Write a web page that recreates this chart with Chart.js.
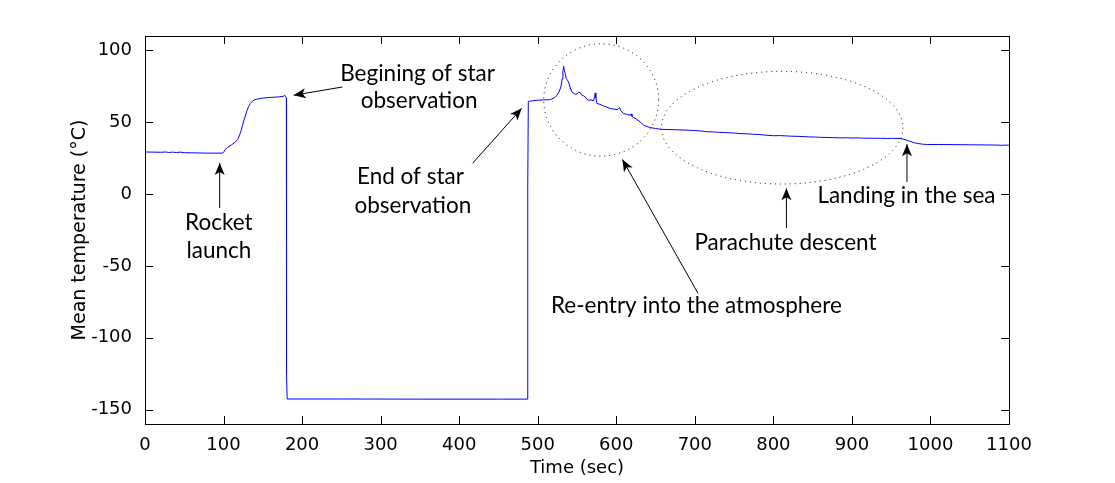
<!DOCTYPE html>
<html lang="en">

<head>
  <meta charset="utf-8">
  <title>Mean temperature</title>
  <script src="https://cdn.jsdelivr.net/npm/chart.js"></script>
  <style>
    body { margin: 0; background: #fff; }
  </style>
</head>

<body>
  <canvas id="chart" width="1115" height="483"></canvas>

  <script type="text/javascript">
    // flight record
    const timeSec = [
      0, 10, 20, 27, 30, 35, 40, 45, 50, 60, 70, 80, 90, 99,
      100.5, 102, 105, 110, 115, 118, 120, 122, 124, 126, 128, 130, 132, 134, 136, 139, 142,
      150, 160, 170, 176, 178, 179, 180, 180.2, 181,
      250, 350, 450, 487, 487.3, 488,
      489.6, 495, 499, 508, 516, 521, 524.4, 527, 529.5, 531, 532, 533, 534, 535, 536.3, 537.5, 539.3,
      541, 543.5, 545, 547.8, 550, 552, 554, 556, 558, 560.5, 562, 564.7, 568, 571, 572.5, 573.2, 574,
      575.4, 579, 583.8, 588, 592.4, 597, 601, 603, 604.2, 605.5, 609.3, 613, 617.8, 619, 620, 622,
      626, 630.6, 634.8, 638, 643.3, 650, 657, 664.6, 680, 693.4,
      700, 708, 715, 722, 730, 738, 745, 752, 760, 768, 775, 782, 790, 800, 808, 815, 822, 830, 838,
      845, 852, 860, 868, 875, 885, 893, 900, 908, 915, 922, 930, 938, 945, 952, 960,
      965, 970, 975, 980, 985, 990, 996, 1010, 1030, 1050, 1070, 1085, 1090, 1095, 1100
    ];
    const meanTemp = [
      29.3, 29.2, 29.1, 29.3, 28.9, 29.2, 28.9, 29.2, 28.8, 28.7, 28.6, 28.5, 28.5, 28.5,
      29.5, 31, 32.4, 34.2, 36.2, 38, 40.5, 43.5, 47.5, 51.5, 55, 58.3, 61, 63, 64.3, 65.5, 66,
      66.8, 67.3, 67.6, 68, 68.8, 67.5, 67, -126, -142.6,
      -142.6, -142.7, -142.7, -142.7, 5, 64.5,
      64.6, 65, 65.3, 65.5, 65.7, 67, 68.7, 71, 74.5, 80, 84.9, 88.9, 86, 83.8, 80.3, 79.5, 78,
      74.5, 71, 70.5, 69.4, 69.8, 70.8, 70.6, 69, 68.5, 67.6, 66.2, 65.3, 65.5, 64.8, 68, 70.4, 67,
      63, 62.5, 61.3, 60.5, 59.5, 59.2, 58.7, 59.5, 60.2, 58.3, 56, 55.5, 54.9, 55.8, 54, 53.3,
      52, 50.2, 47.9, 47.2, 46.3, 45.6, 45.1, 44.9, 44.7, 44.4,
      44.2, 43.9, 43.4, 43.3, 43.0, 42.8, 42.6, 42.4, 42.0, 41.9, 41.6, 41.4, 41.0, 40.6, 40.7, 40.5, 40.3, 40.2, 40.0,
      39.8, 39.7, 39.5, 39.4, 39.3, 39.1, 39.2, 39.0, 39.1, 38.9, 38.9, 38.8, 38.8, 38.7, 38.8, 38.7,
      38.3, 37.5, 36.5, 35.6, 35.1, 34.7, 34.5, 34.5, 34.4, 34.3, 34.2, 34.1, 33.9, 34.1, 34.0
    ];
    const xTicks = [0, 100, 200, 300, 400, 500, 600, 700, 800, 900, 1000, 1100];
    const yTicks = [-150, -100, -50, 0, 50, 100];

    // annotations, placed in data units
    const noteLabels = [
      { x: 347, y: 79, text: 'Begining of star' },
      { x: 349, y: 60, text: 'observation' },
      { x: 94, y: -25, text: 'Rocket' },
      { x: 94, y: -44.7, text: 'launch' },
      { x: 338, y: 6.7, text: 'End of star' },
      { x: 341, y: -13.4, text: 'observation' },
      { x: 702, y: -82.8, text: 'Re-entry into the atmosphere' },
      { x: 815.4, y: -38.9, text: 'Parachute descent' },
      { x: 969.4, y: -6.5, text: 'Landing in the sea' }
    ];
    const noteArrows = [
      { from: [251.3, 74.5], to: [189.3, 68.8] },
      { from: [95.1, -9.7], to: [95.1, 21.7] },
      { from: [417.2, 21.5], to: [479.6, 59.7] },
      { from: [704, -69], to: [607.8, 24.1] },
      { from: [816.6, -23.6], to: [816.6, 4] },
      { from: [970.1, 8.5], to: [970.1, 34.7] }
    ];
    const noteEllipses = [
      { x: 580.8, y: 65.5, rx: 73.2, ry: 39.1 },
      { x: 811.2, y: 46.2, rx: 153.8, ry: 39.2 }
    ];

    function drawArrow(ctx, x1, y1, x2, y2) {
      const ang = Math.atan2(y2 - y1, x2 - x1);
      ctx.beginPath();
      ctx.moveTo(x1, y1);
      ctx.lineTo(x2, y2);
      ctx.stroke();
      ctx.save();
      ctx.translate(x2, y2);
      ctx.rotate(ang);
      ctx.beginPath();
      ctx.moveTo(0, 0);
      ctx.lineTo(-12, -5);
      ctx.lineTo(-9, 0);
      ctx.lineTo(-12, 5);
      ctx.closePath();
      ctx.fill();
      ctx.restore();
    }

    const notesPlugin = {
      id: 'notes',
      afterDatasetsDraw(chart) {
        const ctx = chart.ctx;
        const xs = chart.scales.x, ys = chart.scales.y;
        ctx.save();
        ctx.strokeStyle = '#000';
        ctx.fillStyle = '#000';
        ctx.lineWidth = 1;

        // dotted rings
        ctx.setLineDash([1, 4]);
        noteEllipses.forEach(e => {
          const cx = xs.getPixelForValue(e.x), cy = ys.getPixelForValue(e.y);
          const rx = Math.abs(xs.getPixelForValue(e.x + e.rx) - cx);
          const ry = Math.abs(ys.getPixelForValue(e.y + e.ry) - cy);
          ctx.beginPath();
          ctx.ellipse(cx, cy, rx, ry, 0, 0, 2 * Math.PI);
          ctx.stroke();
        });
        ctx.setLineDash([]);

        noteArrows.forEach(a => {
          drawArrow(ctx,
            xs.getPixelForValue(a.from[0]), ys.getPixelForValue(a.from[1]),
            xs.getPixelForValue(a.to[0]), ys.getPixelForValue(a.to[1]));
        });

        ctx.font = '22.5px Lato';
        ctx.textAlign = 'center';
        ctx.textBaseline = 'alphabetic';
        noteLabels.forEach(l => {
          ctx.fillText(l.text, xs.getPixelForValue(l.x), ys.getPixelForValue(l.y));
        });
        ctx.restore();
      },
      afterDraw(chart) {
        // box with inward ticks
        const ctx = chart.ctx;
        const a = chart.chartArea;
        const xs = chart.scales.x, ys = chart.scales.y;
        const len = 8;
        ctx.save();
        ctx.strokeStyle = '#000';
        ctx.lineWidth = 1;
        ctx.strokeRect(Math.round(a.left) + 0.5, Math.round(a.top) + 0.5,
          Math.round(a.right - a.left), Math.round(a.bottom - a.top));
        ctx.beginPath();
        xTicks.forEach(v => {
          const px = Math.round(xs.getPixelForValue(v)) + 0.5;
          ctx.moveTo(px, a.top); ctx.lineTo(px, a.top + len);
          ctx.moveTo(px, a.bottom); ctx.lineTo(px, a.bottom - len);
        });
        yTicks.forEach(v => {
          const py = Math.round(ys.getPixelForValue(v)) + 0.5;
          ctx.moveTo(a.left, py); ctx.lineTo(a.left + len, py);
          ctx.moveTo(a.right, py); ctx.lineTo(a.right - len, py);
        });
        ctx.stroke();
        ctx.restore();
      }
    };

    const points = timeSec.map((t, i) => ({ x: t, y: meanTemp[i] }));

    Chart.defaults.color = '#000';
    Chart.defaults.font.family = 'DejaVu Sans';
    Chart.defaults.font.size = 18;

    new Chart(document.getElementById('chart'), {
      type: 'line',
      data: {
        datasets: [{
          data: points,
          borderColor: '#0000ff',
          borderWidth: 1,
          pointRadius: 0,
          tension: 0
        }]
      },
      options: {
        responsive: false,
        animation: false,
        layout: { padding: { top: 36, right: 106, left: 0, bottom: 0 } },
        plugins: { legend: { display: false }, tooltip: { enabled: false } },
        scales: {
          x: {
            type: 'linear',
            min: 0,
            max: 1100,
            grid: { display: false },
            border: { display: false },
            ticks: {
              font: { family: 'DejaVu Sans', size: 18 },
              padding: 3,
              maxRotation: 0,
              callback: v => String(v)
            },
            afterBuildTicks: s => { s.ticks = xTicks.map(v => ({ value: v })); },
            afterFit: s => { s.height = 59; },
            title: {
              display: true, text: 'Time (sec)',
              font: { family: 'DejaVu Sans', size: 18 },
              padding: { top: 0, bottom: 4 }
            }
          },
          y: {
            type: 'linear',
            min: -160,
            max: 110,
            grid: { display: false },
            border: { display: false },
            ticks: {
              font: { family: 'DejaVu Sans', size: 18 },
              padding: 5,
              callback: v => String(v)
            },
            afterBuildTicks: s => { s.ticks = yTicks.map(v => ({ value: v })); },
            afterFit: s => { s.width = 145; },
            title: {
              display: true, text: 'Mean temperature (°C)',
              font: { family: 'DejaVu Sans', size: 19 },
              padding: { top: 69, bottom: 0 }
            }
          }
        }
      },
      plugins: [notesPlugin]
    });
  </script>
</body>

</html>
